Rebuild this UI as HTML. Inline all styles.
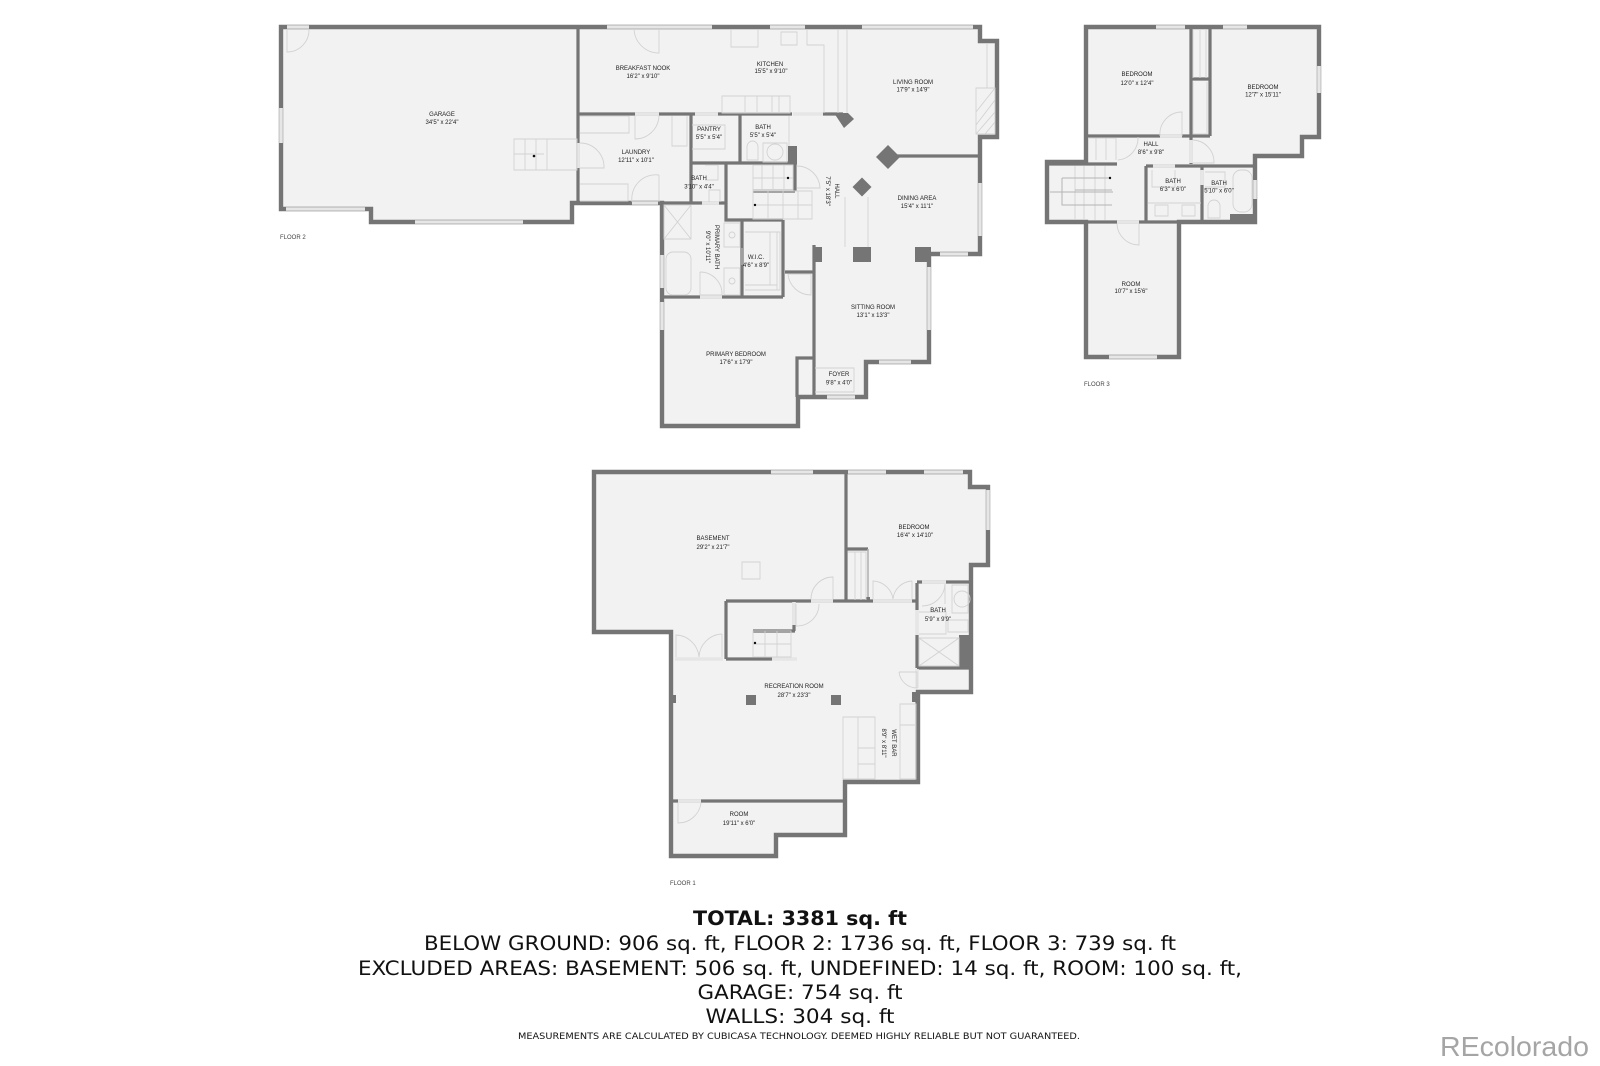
<!DOCTYPE html>
<html><head><meta charset="utf-8"><title>Floor plan</title>
<style>
html,body{margin:0;padding:0;background:#fff}
svg{display:block}
.t text{font-family:"Liberation Sans",sans-serif;font-size:6px;fill:#222;text-anchor:middle}
.fl{font-family:"Liberation Sans",sans-serif;font-size:6px;fill:#444}
.b text{font-family:"DejaVu Sans",sans-serif;font-size:19.5px;fill:#111;text-anchor:middle}
.o{fill:#f2f2f2;stroke:#757575;stroke-width:4.4;stroke-linejoin:miter}
.w{fill:none;stroke:#757575;stroke-width:3.2}
.x{fill:none;stroke:#e6e6e6;stroke-width:3.6}
.l{fill:none;stroke:#d2d2d2;stroke-width:.9}
.d{fill:none;stroke:#b4b4b4;stroke-width:1}
.c{fill:#757575}
</style></head><body>
<svg xmlns="http://www.w3.org/2000/svg" width="1600" height="1066" viewBox="0 0 1600 1066">
<defs><filter id="s" filterUnits="userSpaceOnUse" x="0" y="0" width="1600" height="1066"><feGaussianBlur stdDeviation="0.35"/></filter></defs>
<rect width="1600" height="1066" fill="#fff"/>
<g filter="url(#s)">
<!-- FLOOR 2 -->
<path class="o" d="M281 27H980V41H997V137H980V254H929V362H866V397H798V426H662V203H572V222H371V209H281Z"/>
<path class="w" d="M578 27V203M578 114H792M823 114H843M691 114V203M740 114V163M691 163H797M795 163V191M726 163V220H783M753 191H795M662 203H726M742 220V297M783 220V297M662 297H783M785 272H814M814 245V397M797 397V358H814M892 156H980"/>
<rect class="c" x="788" y="146" width="9" height="16"/>
<rect class="c" x="814" y="247" width="8" height="15"/>
<rect class="c" x="853" y="247" width="18" height="15"/>
<rect class="c" x="915" y="247" width="16" height="15"/>
<polygon class="c" points="834,113 848,113 854,119 844,128"/>
<polygon class="c" points="888,145 900,157 888,169 876,157"/>
<polygon class="c" points="862,177.500 871.500,187 862,196.500 852.500,187"/>
<path class="x" d="M287 27H309M281 108V143M286 209H365M415 222H523M607 27H712M770 27H805M862 27H973M980 183V236M940 254H968M929 267V330M879 362H911M827 397H855M662 302V330M662 255V288M578 143V168M635 114H659M695 114H718M632 203H658M702 203H719M700 297H722M793 114H823"/>
<path class="l" d="M287 29V52A22 22 0 0 0 309 29M659 29V53A25 25 0 0 1 634 29"/>
<path class="l" d="M514 139H577V170H514ZM514 154H544M525 139V170M536 139V170M547 139V170M580 143A24 24 0 0 1 604 168H580"/>
<path class="l" d="M635 116V139A24 24 0 0 0 659 116M659 175A24 24 0 0 0 632 202M659 175V202M580 116H629V133H580M580 184H628V201H580M672 116V146H687V116"/>
<!-- kitchen -->
<path class="l" d="M731 30V47H758V30M781 32H797V45H781ZM807 30V45H824V113M838 30V113M847 30V113M722 96H790V113H722ZM745 96V113M757 96V113M772 96V113M779 96V113"/>
<!-- pantry / bath -->
<path class="l" d="M692 125H725V149H692M789 116V146M747 160V147A5.500 6 0 0 1 758 147V160ZM763 143H787V162H763ZM783 152A8 8 0 1 1 767 152A8 8 0 1 1 783 152"/>
<path class="l" d="M705 165H718V180H705M709 202V190H720V202"/>
<!-- stairs -->
<path class="l" d="M753 165H793V190H753ZM753 178H793M762 165V190M773 165V190M784 165V190M753 191H812V219H753ZM753 205H812M768 191V219M783 191V219M798 191V219M797 166A23 23 0 0 1 820 188H797"/>
<!-- primary bath -->
<path class="l" d="M664 205H691V239H664ZM664 205L691 239M691 205L664 239M724 223H740V247H724ZM724 268H740V295H724ZM735 235A3 3 0 1 1 729 235A3 3 0 1 1 735 235M735 281A3 3 0 1 1 729 281A3 3 0 1 1 735 281"/>
<rect class="l" x="666" y="252" width="25" height="43" rx="7"/>
<path class="l" d="M700 272V295H722A22 22 0 0 0 700 272"/>
<path class="l" d="M745 232H780V290H745M770 232V285M777 232V290M745 285H777M742 248V265M811 274V295A23 23 0 0 1 788 274H811"/>
<!-- foyer, fireplace, hall strip -->
<path class="l" d="M815 368H854V392H815M987 43V88M976 88H995V134H976ZM976 125L995 100M976 134L995 112M985 134L995 122M976 112L995 88M845 197V247M868 197V247"/>
<circle cx="534" cy="156" r="1.300" fill="#111"/><circle cx="788" cy="178" r="1.200" fill="#111"/><circle cx="755" cy="205" r="1.200" fill="#111"/>
<!-- FLOOR 3 -->
<path class="o" d="M1086 27H1319V137H1302V156H1255V222H1179V357H1086V222H1047V162H1086Z"/>
<path class="w" d="M1086 136H1210M1191 27V164M1210 27V136M1191 79H1210M1047 164H1117M1146 166H1253M1146 166V222M1202 166V222M1047 222H1255"/>
<rect class="c" x="1230" y="214" width="25" height="7"/>
<path class="x" d="M1156 27H1185M1223 27H1247M1319 66V93M1109 357H1157M1255 180V199M1160 136H1182M1117 222H1139M1191 140V163M1153 166H1175M1202 170V185"/>
<path class="l" d="M1160 136A22 22 0 0 1 1182 112V136M1117 224A22 22 0 0 0 1139 245V224M1193 140A22 22 0 0 1 1214 163H1193M1118 160A22 22 0 0 0 1138 137M1116 138V160M1088 138H1116M1106 138V160M1096 138V160"/>
<path class="l" d="M1075 166V220M1084 166V220M1095 166V220M1105 166V220M1193 30V78M1200 30V78M1206 30V78M1193 82V134H1207V82"/>
<path class="d" d="M1062 178H1110M1062 178V205H1112M1050 192H1113M1075 190H1112"/>
<path class="l" d="M1152 170V187H1175V170M1148 203H1201M1155 205H1168V216H1155ZM1182 205H1195V216H1182ZM1205 172H1225V187H1205"/>
<rect class="l" x="1233" y="170" width="19" height="42" rx="8"/>
<path class="l" d="M1208 218V206A6 6 0 0 1 1220 206V218Z"/>
<circle cx="1110" cy="178" r="1.200" fill="#111"/>
<!-- FLOOR 1 -->
<path class="o" d="M594 472H970V487H988V565H971V692H918V782H845V835H776V856H671V632H594Z"/>
<path class="w" d="M846 472V601M846 549H868M726 601H917M726 601V659M726 659H772M794 601V631M753 631H795M917 583V610M917 635V668M917 692V782M917 582H971M917 668H971M671 801H845"/>
<path class="d" d="M868 549V598" style="stroke-width:1.600"/>
<rect class="c" x="866" y="597" width="4" height="4"/>
<rect class="c" x="959" y="635" width="11" height="32"/>
<rect class="c" x="912" y="692" width="6" height="10"/>
<rect class="c" x="746" y="695" width="10" height="10"/>
<rect class="c" x="831" y="695" width="10" height="10"/>
<rect class="c" x="673" y="695" width="3" height="8"/>
<path class="x" d="M771 472H813M848 472H886M924 472H963M988 490V530M811 601H833M873 601H912M675 659H723M772 659H797M678 801H701M794 602V625M922 582H946M917 610V635M917 669V688"/>
<path class="l" d="M742 562H760V579H742ZM811 599A22 22 0 0 1 833 577V599M873 599V581A21 21 0 0 1 893 599M912 581V599M912 581A20 20 0 0 0 893 599M676 657V635A24 24 0 0 1 699 657M722 634V657M722 634A24 24 0 0 0 699 657M796 604V626A22 22 0 0 0 819 604M678 803V823A23 23 0 0 0 701 803"/>
<path class="l" d="M753 631H791V657H753ZM765 631V657M777 631V657M753 644H791M848 552H866V600M855 552V600M861 552V600M843 717H875V779H843ZM858 717V779M858 748H875M858 764H875M900 704H916V779H900ZM900 725H916"/>
<path class="l" d="M945 584A23 23 0 0 1 922 606M945 584V604M952 585H968V613H952ZM970 599A8 8 0 1 1 954 599A8 8 0 1 1 970 599M948 620H968V632H948ZM919 612H946V634H919M919 638H959V666H919ZM919 638L959 666M959 638L919 666M899 672H917V688A18 18 0 0 1 899 672"/>
<circle cx="755" cy="643" r="1.200" fill="#111"/>
</g>
<!-- labels -->
<g class="t">
<text x="442" y="116">GARAGE</text><text x="442" y="124">34'5" x 22'4"</text>
<text x="643" y="70">BREAKFAST NOOK</text><text x="643" y="78">16'2" x 9'10"</text>
<text x="770" y="66">KITCHEN</text><text x="771" y="73">15'5" x 9'10"</text>
<text x="913" y="84">LIVING ROOM</text><text x="913" y="91.500">17'9" x 14'9"</text>
<text x="636" y="154">LAUNDRY</text><text x="636" y="162">12'11" x 10'1"</text>
<text x="709" y="131">PANTRY</text><text x="709" y="139">5'5" x 5'4"</text>
<text x="763" y="129">BATH</text><text x="763" y="137">5'5" x 5'4"</text>
<text x="699" y="180">BATH</text><text x="699" y="188.500">3'10" x 4'4"</text>
<text transform="translate(835 191) rotate(90)">HALL</text><text transform="translate(826 191) rotate(90)">7'5" x 18'3"</text>
<text x="917" y="200">DINING AREA</text><text x="917" y="208">15'4" x 11'1"</text>
<text transform="translate(715 247) rotate(90)">PRIMARY BATH</text><text transform="translate(706 247) rotate(90)">9'0" x 10'11"</text>
<text x="756" y="259">W.I.C.</text><text x="756" y="267">4'6" x 8'9"</text>
<text x="873" y="309">SITTING ROOM</text><text x="873" y="317">13'1" x 13'3"</text>
<text x="736" y="356">PRIMARY BEDROOM</text><text x="736" y="364">17'6" x 17'9"</text>
<text x="839" y="376">FOYER</text><text x="839" y="384.500">9'8" x 4'0"</text>
<text x="1137" y="76">BEDROOM</text><text x="1137" y="85">12'0" x 12'4"</text>
<text x="1263" y="89">BEDROOM</text><text x="1263" y="96.500">12'7" x 15'11"</text>
<text x="1151" y="146">HALL</text><text x="1151" y="154">8'6" x 9'8"</text>
<text x="1173" y="183">BATH</text><text x="1173" y="191">6'3" x 6'0"</text>
<text x="1219" y="185">BATH</text><text x="1219" y="192.500">5'10" x 6'0"</text>
<text x="1131" y="286">ROOM</text><text x="1131" y="293">10'7" x 15'6"</text>
<text x="713" y="540">BASEMENT</text><text x="713" y="549">29'2" x 21'7"</text>
<text x="914" y="529">BEDROOM</text><text x="915" y="537">16'4" x 14'10"</text>
<text x="938" y="612">BATH</text><text x="938" y="621">5'9" x 9'9"</text>
<text x="794" y="688">RECREATION ROOM</text><text x="794" y="697">28'7" x 23'3"</text>
<text transform="translate(892 743) rotate(90)">WET BAR</text><text transform="translate(882 743) rotate(90)">8'9" x 8'11"</text>
<text x="739" y="816">ROOM</text><text x="739" y="825">19'11" x 6'0"</text>
</g>
<text class="fl" x="280" y="239">FLOOR 2</text>
<text class="fl" x="1084" y="386">FLOOR 3</text>
<text class="fl" x="670" y="885">FLOOR 1</text>
<!-- summary -->
<g class="b">
<text x="800" y="925" textLength="214" lengthAdjust="spacingAndGlyphs" style="font-weight:bold">TOTAL: 3381 sq. ft</text>
<text x="800" y="950" textLength="752" lengthAdjust="spacingAndGlyphs">BELOW GROUND: 906 sq. ft, FLOOR 2: 1736 sq. ft, FLOOR 3: 739 sq. ft</text>
<text x="800" y="975" textLength="884" lengthAdjust="spacingAndGlyphs">EXCLUDED AREAS: BASEMENT: 506 sq. ft, UNDEFINED: 14 sq. ft, ROOM: 100 sq. ft,</text>
<text x="800" y="999" textLength="205" lengthAdjust="spacingAndGlyphs">GARAGE: 754 sq. ft</text>
<text x="800" y="1023" textLength="189" lengthAdjust="spacingAndGlyphs">WALLS: 304 sq. ft</text>
<text x="799" y="1039" textLength="562" lengthAdjust="spacingAndGlyphs" style="font-size:8.500px">MEASUREMENTS ARE CALCULATED BY CUBICASA TECHNOLOGY. DEEMED HIGHLY RELIABLE BUT NOT GUARANTEED.</text>
</g>
<text x="1440" y="1056" font-family="Liberation Sans, sans-serif" font-size="28" fill="#a5a5a5" textLength="149" lengthAdjust="spacingAndGlyphs">REcolorado</text>
</svg>
</body></html>
